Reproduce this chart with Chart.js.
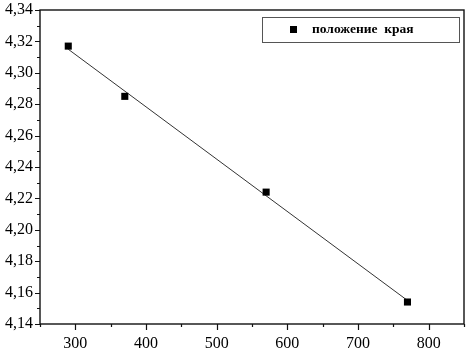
<!DOCTYPE html>
<html><head><meta charset="utf-8">
<script src="https://cdn.jsdelivr.net/npm/chart.js@4/dist/chart.umd.min.js"></script>
<style>html,body{margin:0;padding:0;background:#fff}#wrap{width:475px;height:356px}</style>
</head><body><div id="wrap"><canvas id="c" width="475" height="356"></canvas></div>
<script>
const xValues = [290, 370, 570, 770];
const yValues = [4.317, 4.285, 4.224, 4.154];
const fitX = [290, 770];
const fitY = [4.315, 4.155];
const seriesLabel = 'положение  края';
const xMin = 250, xMax = 850, xStep = 50;
const yMin = 4.14, yMax = 4.34, yStep = 0.01;

const FONT = '"Liberation Serif", "Times New Roman", serif';

const framePlugin = {
  id: 'frame',
  afterDraw(chart) {
    const ctx = chart.ctx, a = chart.chartArea;
    const xs = chart.scales.x, ys = chart.scales.y;
    ctx.save();
    ctx.strokeStyle = '#111';
    ctx.lineWidth = 1.4;
    ctx.strokeRect(a.left, a.top, a.right - a.left, a.bottom - a.top);
    ctx.lineWidth = 1.2;
    ctx.beginPath();
    xs.ticks.forEach(t => {
      const px = Math.round(xs.getPixelForValue(t.value)) + 0.5;
      const major = Math.abs(t.value % 100) < 1e-6;
      ctx.moveTo(px, a.bottom);
      ctx.lineTo(px, a.bottom + (major ? 6 : 3));
    });
    ys.ticks.forEach((t, i) => {
      const py = Math.round(ys.getPixelForValue(t.value)) + 0.5;
      const major = i % 2 === 0;
      ctx.moveTo(a.left, py);
      ctx.lineTo(a.left - (major ? 5 : 3), py);
    });
    ctx.stroke();
    // legend box
    const bx = 262, by = 17, bw = 197, bh = 25;
    ctx.fillStyle = '#fff';
    ctx.fillRect(bx, by, bw, bh);
    ctx.strokeStyle = '#555';
    ctx.lineWidth = 1;
    ctx.strokeRect(bx + 0.5, by + 0.5, bw, bh);
    ctx.fillStyle = '#000';
    ctx.fillRect(290, 26, 7, 7);
    ctx.font = 'bold 13.5px ' + FONT;
    ctx.textBaseline = 'middle';
    ctx.textAlign = 'left';
    ctx.fillText(chart.data.datasets[0].label, 312, 30);
    ctx.restore();
  }
};

new Chart(document.getElementById('c'), {
  type: 'scatter',
  data: {
    datasets: [
      {
        label: seriesLabel,
        data: xValues.map((x, i) => ({x, y: yValues[i]})),
        pointStyle: 'rect',
        pointRadius: 5,
        pointBorderWidth: 0,
        backgroundColor: '#000',
        borderColor: '#000',
        showLine: false,
        order: 0
      },
      {
        label: 'fit',
        data: fitX.map((x, i) => ({x, y: fitY[i]})),
        showLine: true,
        pointRadius: 0,
        borderColor: '#333',
        borderWidth: 1,
        order: 1
      }
    ]
  },
  options: {
    responsive: false,
    animation: false,
    devicePixelRatio: 1,
    layout: {padding: {top: 10, right: 11, left: 0, bottom: 0}},
    plugins: {legend: {display: false}, tooltip: {enabled: false}},
    scales: {
      x: {
        type: 'linear', min: xMin, max: xMax,
        border: {display: false},
        grid: {display: false, drawTicks: false},
        ticks: {
          stepSize: xStep, padding: 10, maxRotation: 0, autoSkip: false,
          color: '#000', font: {family: FONT, size: 16},
          callback: v => (Math.abs(v % 100) < 1e-6 && v > xMin && v < xMax) ? String(v) : ''
        },
        afterFit(s) { s.height = 32; s.paddingLeft = 0; s.paddingRight = 0; }
      },
      y: {
        type: 'linear', min: yMin, max: yMax,
        border: {display: false},
        grid: {display: false, drawTicks: false},
        ticks: {
          stepSize: yStep, padding: 7, autoSkip: false,
          color: '#000', font: {family: FONT, size: 16},
          callback: (v, i) => i % 2 === 0 ? v.toFixed(2).replace('.', ',') : ''
        },
        afterFit(s) { s.width = 40; s.paddingTop = 0; s.paddingBottom = 0; }
      }
    }
  },
  plugins: [framePlugin]
});
</script>
</body></html>
